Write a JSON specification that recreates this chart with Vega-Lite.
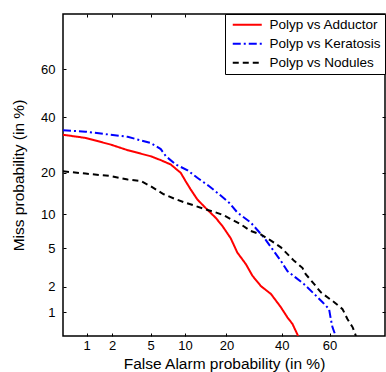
{
  "$schema": "https://vega.github.io/schema/vega-lite/v6.json",
  "width": 322,
  "height": 322,
  "autosize": {"type": "none"},
  "padding": {"left": 63, "top": 14, "right": 1, "bottom": 36},
  "background": "white",
  "config": {
    "view": {"stroke": "black", "strokeWidth": 1.5},
    "font": "Liberation Sans",
    "axis": {
      "labelFont": "Liberation Sans",
      "titleFont": "Liberation Sans",
      "labelFontSize": 13,
      "titleFontSize": 15.5,
      "titleFontWeight": "normal",
      "labelColor": "black",
      "titleColor": "black",
      "domain": false,
      "tickColor": "black",
      "grid": true,
      "gridDash": [1, 3],
      "gridColor": "#666",
      "gridWidth": 1
    }
  },
  "data": {
    "values": [
      {"series": "Polyp vs Adductor", "fa": 0.5, "miss": 33.0},
      {"series": "Polyp vs Adductor", "fa": 0.97, "miss": 31.8},
      {"series": "Polyp vs Adductor", "fa": 1.93, "miss": 29.3},
      {"series": "Polyp vs Adductor", "fa": 2.94, "miss": 27.3},
      {"series": "Polyp vs Adductor", "fa": 5.0, "miss": 25.2},
      {"series": "Polyp vs Adductor", "fa": 6.2, "miss": 23.9},
      {"series": "Polyp vs Adductor", "fa": 7.6, "miss": 22.5},
      {"series": "Polyp vs Adductor", "fa": 9.25, "miss": 19.9},
      {"series": "Polyp vs Adductor", "fa": 10.1, "miss": 17.6},
      {"series": "Polyp vs Adductor", "fa": 11.1, "miss": 15.4},
      {"series": "Polyp vs Adductor", "fa": 12.5, "miss": 13.0},
      {"series": "Polyp vs Adductor", "fa": 14.5, "miss": 11.1},
      {"series": "Polyp vs Adductor", "fa": 17.0, "miss": 9.3},
      {"series": "Polyp vs Adductor", "fa": 18.9, "miss": 7.9},
      {"series": "Polyp vs Adductor", "fa": 21.3, "miss": 6.2},
      {"series": "Polyp vs Adductor", "fa": 23.4, "miss": 4.55},
      {"series": "Polyp vs Adductor", "fa": 26.3, "miss": 3.48},
      {"series": "Polyp vs Adductor", "fa": 28.6, "miss": 2.64},
      {"series": "Polyp vs Adductor", "fa": 31.7, "miss": 2.04},
      {"series": "Polyp vs Adductor", "fa": 35.6, "miss": 1.66},
      {"series": "Polyp vs Adductor", "fa": 39.6, "miss": 1.16},
      {"series": "Polyp vs Adductor", "fa": 42.3, "miss": 0.87},
      {"series": "Polyp vs Adductor", "fa": 44.4, "miss": 0.72},
      {"series": "Polyp vs Adductor", "fa": 46.8, "miss": 0.5},
      {"series": "Polyp vs Keratosis", "fa": 0.5, "miss": 34.7},
      {"series": "Polyp vs Keratosis", "fa": 0.97, "miss": 34.2},
      {"series": "Polyp vs Keratosis", "fa": 1.93, "miss": 33.0},
      {"series": "Polyp vs Keratosis", "fa": 2.94, "miss": 32.2},
      {"series": "Polyp vs Keratosis", "fa": 5.0, "miss": 29.9},
      {"series": "Polyp vs Keratosis", "fa": 6.2, "miss": 27.7},
      {"series": "Polyp vs Keratosis", "fa": 6.9, "miss": 25.2},
      {"series": "Polyp vs Keratosis", "fa": 8.4, "miss": 22.5},
      {"series": "Polyp vs Keratosis", "fa": 10.5, "miss": 20.7},
      {"series": "Polyp vs Keratosis", "fa": 12.5, "miss": 18.5},
      {"series": "Polyp vs Keratosis", "fa": 15.3, "miss": 16.2},
      {"series": "Polyp vs Keratosis", "fa": 17.9, "miss": 14.2},
      {"series": "Polyp vs Keratosis", "fa": 20.8, "miss": 12.3},
      {"series": "Polyp vs Keratosis", "fa": 23.4, "miss": 10.3},
      {"series": "Polyp vs Keratosis", "fa": 28.0, "miss": 8.5},
      {"series": "Polyp vs Keratosis", "fa": 32.9, "miss": 6.3},
      {"series": "Polyp vs Keratosis", "fa": 36.2, "miss": 4.9},
      {"series": "Polyp vs Keratosis", "fa": 39.6, "miss": 3.77},
      {"series": "Polyp vs Keratosis", "fa": 42.3, "miss": 2.96},
      {"series": "Polyp vs Keratosis", "fa": 45.8, "miss": 2.52},
      {"series": "Polyp vs Keratosis", "fa": 49.3, "miss": 2.14},
      {"series": "Polyp vs Keratosis", "fa": 53.6, "miss": 1.66},
      {"series": "Polyp vs Keratosis", "fa": 57.1, "miss": 1.33},
      {"series": "Polyp vs Keratosis", "fa": 59.8, "miss": 1.10},
      {"series": "Polyp vs Keratosis", "fa": 60.5, "miss": 0.83},
      {"series": "Polyp vs Keratosis", "fa": 61.2, "miss": 0.65},
      {"series": "Polyp vs Keratosis", "fa": 62.5, "miss": 0.5},
      {"series": "Polyp vs Nodules", "fa": 0.5, "miss": 20.4},
      {"series": "Polyp vs Nodules", "fa": 0.97, "miss": 19.7},
      {"series": "Polyp vs Nodules", "fa": 1.93, "miss": 19.0},
      {"series": "Polyp vs Nodules", "fa": 2.94, "miss": 18.0},
      {"series": "Polyp vs Nodules", "fa": 4.0, "miss": 17.6},
      {"series": "Polyp vs Nodules", "fa": 5.0, "miss": 16.2},
      {"series": "Polyp vs Nodules", "fa": 6.6, "miss": 14.2},
      {"series": "Polyp vs Nodules", "fa": 8.1, "miss": 13.2},
      {"series": "Polyp vs Nodules", "fa": 9.8, "miss": 12.4},
      {"series": "Polyp vs Nodules", "fa": 11.8, "miss": 11.7},
      {"series": "Polyp vs Nodules", "fa": 14.0, "miss": 11.0},
      {"series": "Polyp vs Nodules", "fa": 16.6, "miss": 10.4},
      {"series": "Polyp vs Nodules", "fa": 19.3, "miss": 9.75},
      {"series": "Polyp vs Nodules", "fa": 21.3, "miss": 9.1},
      {"series": "Polyp vs Nodules", "fa": 24.6, "miss": 8.2},
      {"series": "Polyp vs Nodules", "fa": 28.0, "miss": 7.2},
      {"series": "Polyp vs Nodules", "fa": 31.7, "miss": 6.7},
      {"series": "Polyp vs Nodules", "fa": 35.6, "miss": 5.9},
      {"series": "Polyp vs Nodules", "fa": 39.6, "miss": 5.1},
      {"series": "Polyp vs Nodules", "fa": 45.1, "miss": 3.77},
      {"series": "Polyp vs Nodules", "fa": 48.6, "miss": 3.2},
      {"series": "Polyp vs Nodules", "fa": 50.0, "miss": 2.75},
      {"series": "Polyp vs Nodules", "fa": 53.6, "miss": 2.14},
      {"series": "Polyp vs Nodules", "fa": 56.4, "miss": 1.73},
      {"series": "Polyp vs Nodules", "fa": 61.9, "miss": 1.33},
      {"series": "Polyp vs Nodules", "fa": 65.2, "miss": 1.10},
      {"series": "Polyp vs Nodules", "fa": 67.1, "miss": 0.83},
      {"series": "Polyp vs Nodules", "fa": 69.1, "miss": 0.65},
      {"series": "Polyp vs Nodules", "fa": 70.3, "miss": 0.5}
    ]
  },
  "transform": [
    {"calculate": "quantileNormal(datum.fa / 100)", "as": "zfa"},
    {"calculate": "quantileNormal(datum.miss / 100)", "as": "zmiss"}
  ],
  "layer": [
    {
      "mark": {"type": "point", "opacity": 0},
      "encoding": {
        "x": {
          "field": "zfa", "type": "quantitative",
          "scale": {"domain": [-2.5758, 0.8416], "nice": false, "zero": false},
          "axis": {"orient": "top", "values": [-2.3263, -2.0537, -1.6449, -1.2816, -0.8416, -0.2533, 0.2533], "labels": false, "title": null, "grid": false, "tickSize": -3}
        },
        "y": {
          "field": "zmiss", "type": "quantitative",
          "scale": {"domain": [-2.5758, 0.8416], "nice": false, "zero": false},
          "axis": {"orient": "right", "values": [-2.3263, -2.0537, -1.6449, -1.2816, -0.8416, -0.2533, 0.2533], "labels": false, "title": null, "grid": false, "tickSize": -3}
        }
      }
    },
    {
      "mark": {"type": "line", "strokeWidth": 2, "clip": true},
      "encoding": {
        "x": {
          "field": "zfa", "type": "quantitative",
          "scale": {"domain": [-2.5758, 0.8416], "nice": false, "zero": false},
          "axis": {"orient": "bottom", "values": [-2.3263, -2.0537, -1.6449, -1.2816, -0.8416, -0.2533, 0.2533], "labelExpr": "round(cumulativeNormal(datum.value) * 100)", "title": "False Alarm probability (in %)", "tickSize": -3, "labelPadding": 6, "titlePadding": 4}
        },
        "y": {
          "field": "zmiss", "type": "quantitative",
          "scale": {"domain": [-2.5758, 0.8416], "nice": false, "zero": false},
          "axis": {"orient": "left", "values": [-2.3263, -2.0537, -1.6449, -1.2816, -0.8416, -0.2533, 0.2533], "labelExpr": "round(cumulativeNormal(datum.value) * 100)", "title": "Miss probability (in %)", "tickSize": -3, "labelPadding": 11, "titlePadding": 14}
        },
        "color": {
          "field": "series", "type": "nominal",
          "scale": {"domain": ["Polyp vs Adductor", "Polyp vs Keratosis", "Polyp vs Nodules"], "range": ["#ff0000", "#0000ff", "#000000"]},
          "legend": {
            "title": null, "orient": "top-right", "offset": 0,
            "strokeColor": "black", "fillColor": "white", "padding": 4,
            "symbolType": "M-0.6,0H5.2", "symbolSize": 100, "symbolStrokeWidth": 2,
            "labelFont": "Liberation Sans", "labelFontSize": 13.5, "labelColor": "black",
            "rowPadding": 4, "labelOffset": 27
          }
        },
        "strokeDash": {
          "field": "series", "type": "nominal",
          "scale": {"domain": ["Polyp vs Adductor", "Polyp vs Keratosis", "Polyp vs Nodules"], "range": [[1, 0], [8, 3, 2, 3], [6, 4]]},
          "legend": null
        }
      }
    }
  ],
  "resolve": {"axis": {"x": "independent", "y": "independent"}}
}
